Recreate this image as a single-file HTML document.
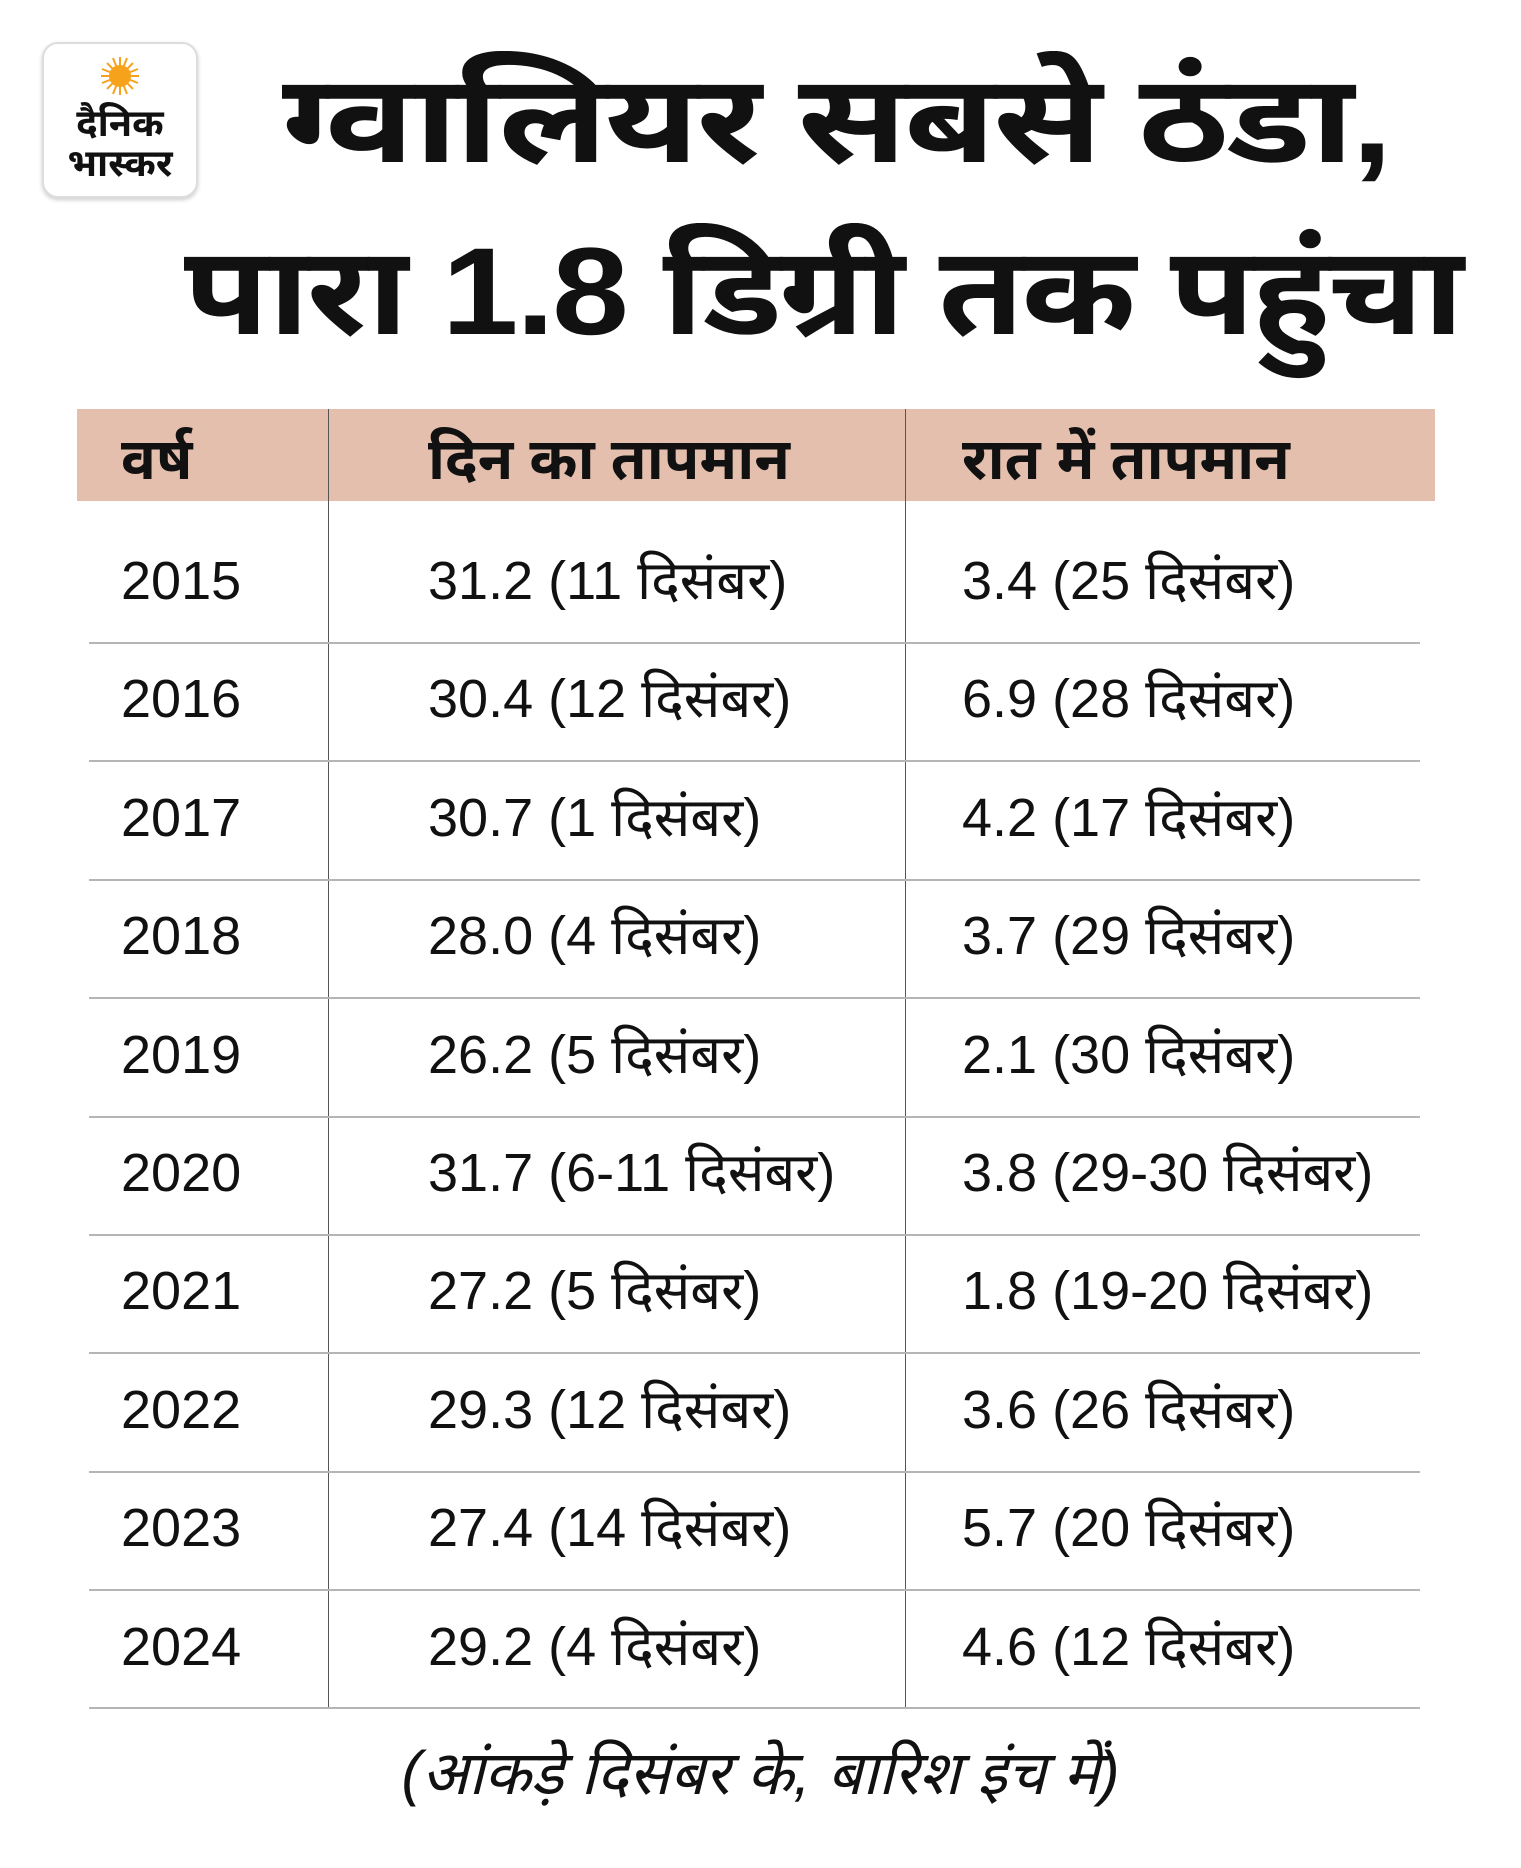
<!DOCTYPE html>
<html><head><meta charset="utf-8"><style>
body{margin:0;background:#fff;width:1521px;height:1868px;position:relative;overflow:hidden;font-family:"Liberation Sans","Noto Sans Devanagari","Lohit Devanagari",sans-serif;color:#111}
.a{position:absolute;white-space:nowrap}
.logo{left:42px;top:42px;width:152px;height:152px;border:2px solid #ddd;border-radius:16px;box-shadow:0 2px 4px rgba(0,0,0,.2);background:#fff}
.t{font-weight:bold;font-size:124px;line-height:1;letter-spacing:-2px;transform-origin:0 0}
.hd{left:77px;top:409px;width:1358px;height:92px;background:#e5bfae}
.h{font-weight:bold;font-size:58px;top:426px}
.c{font-size:54px;line-height:1}
.hl{position:absolute;left:89px;width:1331px;height:2px;background:#b5b5b5}
.vl{position:absolute;width:1px;background:#555;top:409px;height:1300px}
</style></head><body>
<div class="a logo">
 <svg class="a" style="left:56px;top:12px" width="40" height="40" viewBox="-20 -20 40 40"><circle r="11" fill="#f7a21b"/><g stroke="#f7a21b" stroke-width="2"><line x1="0" y1="-19" x2="0" y2="19"/><line x1="-19" y1="0" x2="19" y2="0"/><line x1="-13" y1="-13" x2="13" y2="13"/><line x1="-13" y1="13" x2="13" y2="-13"/><line x1="-7" y1="-18" x2="7" y2="18"/><line x1="7" y1="-18" x2="-7" y2="18"/><line x1="-18" y1="-7" x2="18" y2="7"/><line x1="-18" y1="7" x2="18" y2="-7"/></g></svg>
 <div class="a" style="left:0;width:152px;text-align:center;top:58px;font-weight:bold;font-size:38px">दैनिक</div>
 <div class="a" style="left:0;width:152px;text-align:center;top:98px;font-weight:bold;font-size:38px">भास्कर</div>
</div>
<div class="a t" style="left:282px;top:58px;transform:scaleX(1.19)">ग्वालियर सबसे ठंडा,</div>
<div class="a t" style="left:184px;top:230px;transform:scaleX(1.11)">पारा 1.8 डिग्री तक पहुंचा</div>
<div class="a hd"></div>
<div class="a h" style="left:121px">वर्ष</div>
<div class="a h" style="left:428px">दिन का तापमान</div>
<div class="a h" style="left:962px">रात में तापमान</div>
<div class="vl" style="left:328px"></div>
<div class="vl" style="left:905px"></div>
<div class="hl" style="top:642px"></div><div class="hl" style="top:760px"></div><div class="hl" style="top:879px"></div><div class="hl" style="top:997px"></div><div class="hl" style="top:1116px"></div><div class="hl" style="top:1234px"></div><div class="hl" style="top:1352px"></div><div class="hl" style="top:1471px"></div><div class="hl" style="top:1589px"></div><div class="hl" style="top:1707px"></div>
<div class="a c" style="left:121px;top:554px">2015</div><div class="a c" style="left:428px;top:554px">31.2 (11 दिसंबर)</div><div class="a c" style="left:962px;top:554px">3.4 (25 दिसंबर)</div>
<div class="a c" style="left:121px;top:672px">2016</div><div class="a c" style="left:428px;top:672px">30.4 (12 दिसंबर)</div><div class="a c" style="left:962px;top:672px">6.9 (28 दिसंबर)</div>
<div class="a c" style="left:121px;top:791px">2017</div><div class="a c" style="left:428px;top:791px">30.7 (1 दिसंबर)</div><div class="a c" style="left:962px;top:791px">4.2 (17 दिसंबर)</div>
<div class="a c" style="left:121px;top:909px">2018</div><div class="a c" style="left:428px;top:909px">28.0 (4 दिसंबर)</div><div class="a c" style="left:962px;top:909px">3.7 (29 दिसंबर)</div>
<div class="a c" style="left:121px;top:1028px">2019</div><div class="a c" style="left:428px;top:1028px">26.2 (5 दिसंबर)</div><div class="a c" style="left:962px;top:1028px">2.1 (30 दिसंबर)</div>
<div class="a c" style="left:121px;top:1146px">2020</div><div class="a c" style="left:428px;top:1146px">31.7 (6-11 दिसंबर)</div><div class="a c" style="left:962px;top:1146px">3.8 (29-30 दिसंबर)</div>
<div class="a c" style="left:121px;top:1264px">2021</div><div class="a c" style="left:428px;top:1264px">27.2 (5 दिसंबर)</div><div class="a c" style="left:962px;top:1264px">1.8 (19-20 दिसंबर)</div>
<div class="a c" style="left:121px;top:1383px">2022</div><div class="a c" style="left:428px;top:1383px">29.3 (12 दिसंबर)</div><div class="a c" style="left:962px;top:1383px">3.6 (26 दिसंबर)</div>
<div class="a c" style="left:121px;top:1501px">2023</div><div class="a c" style="left:428px;top:1501px">27.4 (14 दिसंबर)</div><div class="a c" style="left:962px;top:1501px">5.7 (20 दिसंबर)</div>
<div class="a c" style="left:121px;top:1620px">2024</div><div class="a c" style="left:428px;top:1620px">29.2 (4 दिसंबर)</div><div class="a c" style="left:962px;top:1620px">4.6 (12 दिसंबर)</div>
<div class="a" style="left:0;width:1521px;text-align:center;top:1738px;font-size:61px;font-style:italic">(आंकड़े दिसंबर के, बारिश इंच में)</div>
</body></html>
